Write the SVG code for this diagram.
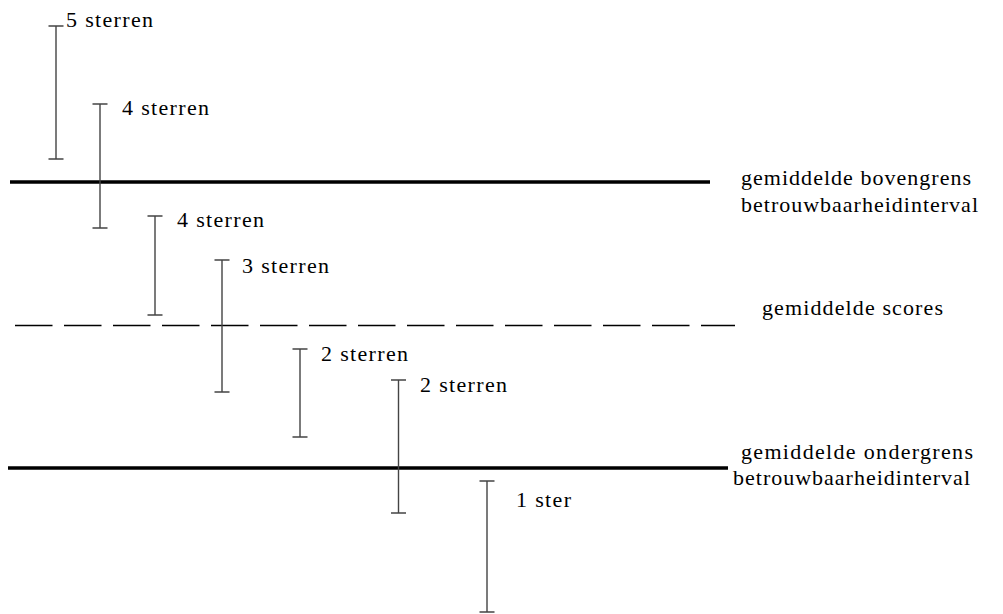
<svg xmlns="http://www.w3.org/2000/svg" width="1003" height="614" viewBox="0 0 1003 614">
<style>
.t{font-family:"Liberation Serif","DejaVu Serif",serif;font-size:22px;fill:#000}
.bar{stroke:#444;stroke-width:1.4;fill:none}
.thick{stroke:#000;stroke-width:3.5}
.dash{stroke:#000;stroke-width:1.4;stroke-dasharray:37.5 11.5}
</style>
<rect width="1003" height="614" fill="#fff"/>
<g id="connectors">
<line class="thick" x1="10" y1="182" x2="710" y2="182"/>
<line class="thick" x1="8" y1="468" x2="728" y2="468"/>
<line class="dash" x1="15" y1="325.5" x2="735" y2="325.5"/>
</g>
<g id="bar5sterren"><path class="bar" d="M56 26V159M48.5 26H63.5M48.5 159H63.5"/><text class="t" x="66" y="27" textLength="87" lengthAdjust="spacing">5 sterren</text></g>
<g id="bar4sterrenA"><path class="bar" d="M100 104V228M92.5 104H107.5M92.5 228H107.5"/><text class="t" x="122" y="115" textLength="87" lengthAdjust="spacing">4 sterren</text></g>
<g id="bar4sterrenB"><path class="bar" d="M155 216V315M147.5 216H162.5M147.5 315H162.5"/><text class="t" x="177" y="227" textLength="87" lengthAdjust="spacing">4 sterren</text></g>
<g id="bar3sterren"><path class="bar" d="M222 260V392M214.5 260H229.5M214.5 392H229.5"/><text class="t" x="242" y="273" textLength="87" lengthAdjust="spacing">3 sterren</text></g>
<g id="bar2sterrenA"><path class="bar" d="M300 349V437M292.5 349H307.5M292.5 437H307.5"/><text class="t" x="321" y="361" textLength="87" lengthAdjust="spacing">2 sterren</text></g>
<g id="bar2sterrenB"><path class="bar" d="M398.5 380V513M391 380H406M391 513H406"/><text class="t" x="420" y="392" textLength="87" lengthAdjust="spacing">2 sterren</text></g>
<g id="bar1ster"><path class="bar" d="M487 481V612M479.5 481H494.5M479.5 612H494.5"/><text class="t" x="516" y="507" textLength="55" lengthAdjust="spacing">1 ster</text></g>
<g id="labelBoven"><text class="t" x="741" y="185" textLength="230" lengthAdjust="spacing">gemiddelde bovengrens</text><text class="t" x="741" y="212" textLength="237" lengthAdjust="spacing">betrouwbaarheidinterval</text></g>
<g id="labelScores"><text class="t" x="762" y="315" textLength="181" lengthAdjust="spacing">gemiddelde scores</text></g>
<g id="labelOnder"><text class="t" x="741" y="459" textLength="232" lengthAdjust="spacing">gemiddelde ondergrens</text><text class="t" x="733" y="485" textLength="237" lengthAdjust="spacing">betrouwbaarheidinterval</text></g>
</svg>
